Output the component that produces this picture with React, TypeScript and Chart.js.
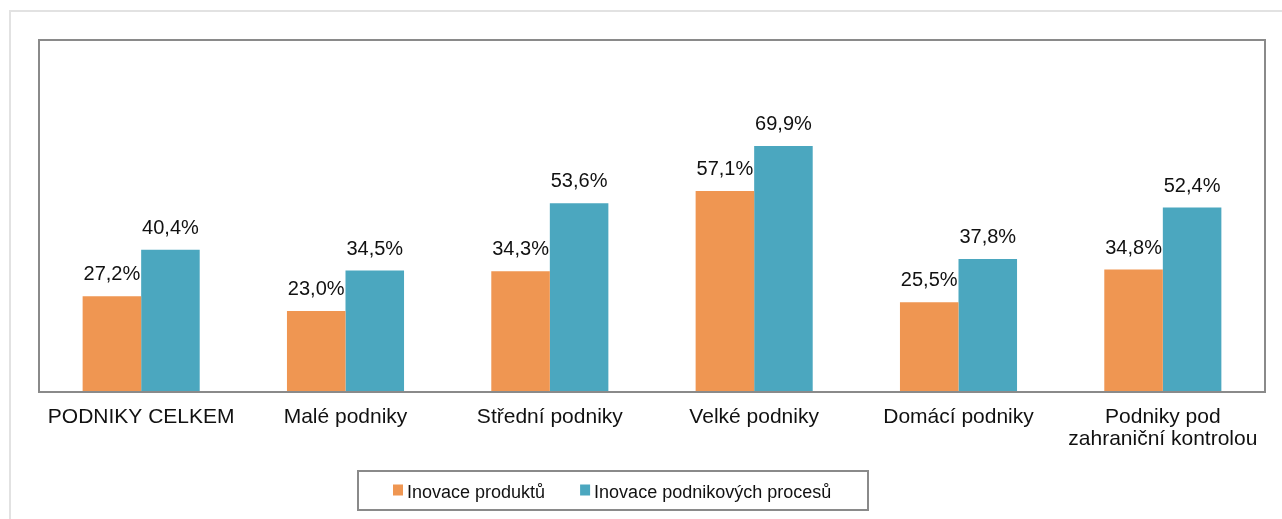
import React, { useEffect, useRef } from 'react';
import { Chart, registerables } from 'chart.js';

Chart.register(...registerables);

const categories: (string | string[])[] = [
  'PODNIKY CELKEM',
  'Malé podniky',
  'Střední podniky',
  'Velké podniky',
  'Domácí podniky',
  ['Podniky pod', 'zahraniční kontrolou'],
];

const seriesNames = ['Inovace produktů', 'Inovace podnikových procesů'];
const productInnovation = [27.2, 23.0, 34.3, 57.1, 25.5, 34.8];
const processInnovation = [40.4, 34.5, 53.6, 69.9, 37.8, 52.4];
const seriesColors = ['#EF9652', '#4BA7BF'];

const FONT = "'Liberation Sans', Arial, sans-serif";

const fmt = (v: number) => v.toFixed(1).replace('.', ',') + '%';

const decorPlugin = {
  id: 'decor',
  beforeDraw(chart: any) {
    const ctx = chart.ctx;
    ctx.save();
    ctx.fillStyle = '#ffffff';
    ctx.fillRect(0, 0, chart.width, chart.height);
    ctx.fillStyle = '#e2e2e2';
    ctx.fillRect(9, 10, 2, chart.height - 10);
    ctx.fillRect(9, 10, chart.width - 9, 2);
    ctx.restore();
  },
  afterDatasetsDraw(chart: any) {
    const ctx = chart.ctx;
    const a = chart.chartArea;
    ctx.save();
    ctx.strokeStyle = '#8a8a8a';
    ctx.lineWidth = 2;
    ctx.strokeRect(a.left, a.top, a.right - a.left, a.bottom - a.top);

    ctx.fillStyle = '#111111';
    ctx.font = `20px ${FONT}`;
    ctx.textAlign = 'center';
    ctx.textBaseline = 'alphabetic';
    chart.data.datasets.forEach((ds: any, i: number) => {
      const meta = chart.getDatasetMeta(i);
      meta.data.forEach((bar: any, j: number) => {
        ctx.fillText(fmt(ds.data[j]), bar.x, bar.y - 16);
      });
    });
    ctx.restore();
  },
  afterDraw(chart: any) {
    const ctx = chart.ctx;
    ctx.save();
    ctx.font = `18px ${FONT}`;
    const boxLeft = 358;
    const boxTop = 471;
    const boxW = 510;
    const boxH = 39;
    ctx.strokeStyle = '#8a8a8a';
    ctx.lineWidth = 2;
    ctx.strokeRect(boxLeft, boxTop, boxW, boxH);
    let x = boxLeft + 35;
    const baseline = boxTop + 26.5;
    chart.data.datasets.forEach((ds: any) => {
      ctx.fillStyle = ds.backgroundColor;
      ctx.fillRect(x, baseline - 13, 10, 11);
      ctx.fillStyle = '#111111';
      ctx.textAlign = 'left';
      ctx.textBaseline = 'alphabetic';
      ctx.fillText(ds.label, x + 14, baseline);
      x += 14 + ctx.measureText(ds.label).width + 35;
    });
    ctx.restore();
  },
};

export default function App() {
  const ref = useRef<HTMLCanvasElement | null>(null);

  useEffect(() => {
    if (!ref.current) return;
    const chart = new Chart(ref.current, {
      type: 'bar',
      data: {
        labels: categories,
        datasets: [
          {
            label: seriesNames[0],
            data: productInnovation,
            backgroundColor: seriesColors[0],
            categoryPercentage: 0.573,
            barPercentage: 1,
          },
          {
            label: seriesNames[1],
            data: processInnovation,
            backgroundColor: seriesColors[1],
            categoryPercentage: 0.573,
            barPercentage: 1,
          },
        ],
      },
      options: {
        responsive: false,
        animation: false,
        devicePixelRatio: 1,
        layout: { padding: { left: 39, right: 17, top: 40, bottom: 0 } },
        plugins: {
          legend: { display: false },
          tooltip: { enabled: false },
        },
        scales: {
          x: {
            grid: { display: false, drawTicks: false },
            border: { display: false },
            ticks: {
              color: '#111111',
              font: { family: FONT, size: 21, lineHeight: '22px' as any },
              padding: 14,
              maxRotation: 0,
              autoSkip: false,
            },
            afterFit(scale: any) {
              scale.height = 127;
            },
          },
          y: {
            display: false,
            min: 0,
            max: 100,
          },
        },
      },
      plugins: [decorPlugin],
    });
    return () => chart.destroy();
  }, []);

  return (
    <div style={{ position: 'fixed', left: 0, top: 0, width: 1282, height: 519, overflow: 'hidden', background: '#fff' }}>
      <canvas ref={ref} width={1282} height={519} style={{ display: 'block', width: 1282, height: 519 }} />
    </div>
  );
}
